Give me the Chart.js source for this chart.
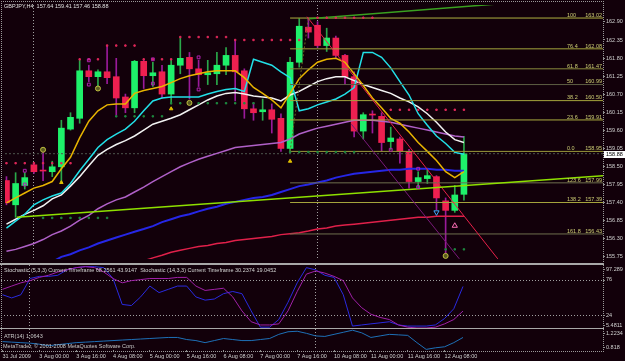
<!DOCTYPE html>
<html>
<head>
<meta charset="utf-8">
<title>GBPJPY,H4</title>
<script src="https://cdn.jsdelivr.net/npm/chart.js@4.4.1/dist/chart.umd.min.js"></script>
<style>
  html, body { margin: 0; padding: 0; background: #12000a; }
  #wrap { position: relative; width: 625px; height: 361px; overflow: hidden; background: #12000a; }
  canvas { position: absolute; left: 0; }
  .sep { position: absolute; left: 0; width: 604px; background: #a8a8a8; }
  #frame { position: absolute; left: 1px; top: 1px; width: 603px; height: 351px; box-sizing: border-box;
           border: 1px dotted #9a9a9a; pointer-events: none; }
</style>
</head>
<body>
<div id="wrap">
  <canvas id="main" width="625" height="264" style="top:0"></canvas>
  <canvas id="stoch" width="625" height="63" style="top:265px"></canvas>
  <canvas id="atr" width="625" height="32" style="top:329px"></canvas>
  <div class="sep" style="top:263px;height:2px"></div>
  <div class="sep" style="top:328px;height:1px"></div>
  <div id="frame"></div>
</div>
<script>
// ---- data ----
var symbol = 'GBPJPY,H4';

var opens  = [158.06,157.32,157.91,158.54,158.37,158.33,158.48,159.63,159.96,161.41,161.23,161.38,161.23,160.61,160.28,161.70,161.26,161.38,160.70,161.58,161.82,161.47,161.29,161.32,161.58,161.88,161.41,160.25,160.16,160.22,159.96,159.04,161.67,162.74,162.80,162.18,162.41,161.88,161.23,159.57,160.08,160.02,159.25,159.33,158.95,158.03,158.12,158.18,157.44,157.15,157.64];
var highs  = [158.18,158.30,158.30,158.59,158.92,158.65,159.90,160.13,161.73,161.58,161.44,162.18,161.79,160.70,161.73,161.76,161.67,161.58,161.76,162.41,161.97,161.73,161.73,161.97,162.12,162.35,161.47,160.43,160.55,160.40,160.10,161.82,163.00,163.02,162.91,162.71,162.47,161.91,161.38,160.13,160.19,160.13,159.69,159.39,159.01,158.33,158.42,158.21,157.53,157.91,159.41];
var lows   = [157.32,156.94,157.80,158.28,158.06,158.18,158.00,159.60,159.81,161.08,160.87,161.02,160.05,160.13,160.13,160.87,160.93,160.58,160.40,161.32,160.55,160.93,160.99,160.99,161.29,160.49,159.96,159.90,159.90,159.51,158.95,158.95,161.52,162.41,162.12,162.00,161.82,160.99,159.39,159.33,159.51,158.95,159.01,158.59,157.83,157.83,157.97,157.17,155.80,157.09,157.46];
var closes = [157.38,157.97,158.15,158.33,158.35,158.48,159.66,159.99,161.41,161.23,161.38,161.20,160.58,160.28,161.70,161.26,161.35,160.70,161.58,161.79,161.47,161.29,161.35,161.58,161.88,161.38,160.25,160.13,160.22,159.93,159.04,161.67,162.77,162.59,162.18,162.41,161.88,161.23,159.57,160.07,160.06,159.22,159.36,158.95,158.03,158.15,158.21,157.53,157.15,157.62,158.88];

var maYellow = [157.38,157.53,157.68,157.83,157.91,158.03,158.42,158.77,159.36,159.87,160.19,160.37,160.40,160.40,160.72,160.81,160.87,160.93,161.05,161.17,161.26,161.32,161.38,161.41,161.41,161.41,161.20,160.90,160.72,160.52,160.28,160.72,161.17,161.44,161.67,161.76,161.79,161.67,161.32,160.96,160.58,160.28,159.96,159.81,159.54,159.22,158.95,158.67,158.33,158.15,158.33];
var maCyan   = [156.61,156.82,157.03,157.32,157.47,157.59,157.68,157.97,158.36,158.71,159.07,159.31,159.48,159.63,159.87,160.19,160.49,160.58,160.61,160.61,160.61,160.61,160.70,160.78,160.84,160.87,160.78,161.76,161.67,161.58,161.38,161.20,160.19,160.25,160.37,160.46,160.55,160.70,160.90,161.97,161.97,161.82,161.50,161.08,160.67,160.10,159.75,159.42,159.19,158.92,158.86];
var maWhite  = [156.73,156.88,157.03,157.15,157.29,157.50,157.62,157.89,158.18,158.51,158.83,159.01,159.16,159.28,159.42,159.60,159.78,159.87,159.96,160.07,160.22,160.37,160.52,160.64,160.72,160.75,160.70,160.64,160.61,160.58,160.49,160.67,160.78,160.93,161.08,161.17,161.23,161.23,161.11,160.99,160.90,160.81,160.72,160.58,160.46,160.31,160.10,159.84,159.54,159.31,159.22];
var maViolet = [155.90,155.96,156.05,156.14,156.26,156.41,156.52,156.67,156.85,157.00,157.20,157.35,157.47,157.56,157.71,157.86,158.03,158.18,158.33,158.48,158.60,158.71,158.80,158.89,158.98,159.07,159.10,159.13,159.16,159.19,159.22,159.33,159.48,159.57,159.66,159.72,159.78,159.84,159.90,159.90,159.90,159.87,159.84,159.78,159.72,159.66,159.60,159.54,159.48,159.42,159.39];
var maBlue   = [null,null,null,null,null,155.58,155.73,155.81,155.93,156.02,156.14,156.23,156.32,156.41,156.50,156.58,156.67,156.79,156.88,156.97,157.03,157.12,157.20,157.26,157.35,157.41,157.47,157.53,157.56,157.62,157.71,157.80,157.89,157.94,158.00,158.06,158.15,158.21,158.27,158.30,158.33,158.36,158.39,158.39,158.42,158.42,158.42,158.39,158.39,158.36,158.36];
var maRed    = [null,null,null,null,null,null,null,null,null,null,null,null,null,null,null,155.61,155.70,155.78,155.87,155.93,155.99,156.05,156.08,156.14,156.17,156.23,156.26,156.29,156.32,156.35,156.41,156.44,156.47,156.52,156.58,156.61,156.67,156.70,156.73,156.76,156.79,156.82,156.85,156.88,156.91,156.94,156.94,156.97,156.97,156.97,156.97];

var resistDots = [158.59,158.59,158.59,158.59,158.59,158.59,158.59,158.59,161.76,161.76,161.76,162.18,162.18,162.18,162.18,161.76,161.76,161.76,161.76,162.44,162.44,162.44,162.44,162.44,162.44,162.35,162.35,162.35,162.35,162.35,162.35,162.35,162.35,null,163.03,163.03,163.03,163.03,163.03,163.03,163.03,null,160.22,160.22,160.22,160.22,160.22,160.22,160.22,160.22,160.22];
var supportDots = [null,null,null,null,156.92,156.92,156.92,156.92,156.92,156.92,156.92,156.92,160.02,160.02,160.02,160.02,160.02,160.02,160.42,160.42,160.42,160.42,160.42,160.42,160.42,160.42,160.42,160.42,null,null,null,158.93,158.93,158.93,158.93,158.93,158.93,158.93,158.93,null,null,null,null,null,null,null,null,null,155.96,155.96,155.96];

var circleMarks = [{x: 4, y: 159.00}, {x: 10, y: 160.87}, {x: 20, y: 160.43}, {x: 48, y: 155.76}];
var triangleMarks = [{x: 6, y: 158.00}, {x: 18, y: 160.25}, {x: 31, y: 158.65}];
var squareMarks = [{x: 2, y: 158.36}, {x: 2, y: 157.94}, {x: 9, y: 161.73}, {x: 9, y: 160.99}, {x: 16, y: 161.76}, {x: 16, y: 161.02},
                   {x: 21, y: 161.82}, {x: 21, y: 160.84}, {x: 42, y: 159.00}, {x: 45, y: 158.42}, {x: 45, y: 157.86}];
var arrowDown = [{x: 47, y: 157.09}];
var arrowUp = [{x: 49, y: 156.68}];

var fibNames  = ['100', '76.4', '61.8', '50', '38.2', '23.6', '0.0', '123.6', '138.2', '161.8'];
var fibPrices = [163.02, 162.08, 161.47, 160.99, 160.50, 159.91, 158.95, 157.99, 157.39, 156.43];
var fibStart = 31;
var fibBase = [{x: 31, y: 158.95}, {x: 33, y: 163.02}];
var redChannel = [{x: 32.85, y: 163.06}, {x: 53.7, y: 155.67}];
var purpleChannel = [{x: 37.7, y: 159.78}, {x: 49.5, y: 155.67}];
var greenTrend = [{x: 33.06, y: 163.00}, {x: 65.2, y: 163.70}];
var limeTrend = [{x: 1.14, y: 156.94}, {x: 65.2, y: 158.21}];
var bidPrice = 158.88;

var priceTicks = [162.90, 162.35, 161.80, 161.25, 160.70, 160.15, 159.60, 159.05, 158.50, 157.95, 157.40, 156.85, 156.30, 155.75];

var stochFast = [54.0,49.3,54.0,77.6,80.7,80.7,82.3,90.2,93.4,94.9,94.9,93.4,77.6,39.8,38.2,50.8,66.6,57.1,61.8,66.6,66.6,50.8,46.1,47.7,55.5,58.7,55.5,30.4,6.7,6.7,17.8,43.0,71.3,93.4,90.2,82.3,79.2,54.0,8.3,9.9,11.5,13.0,14.6,9.9,8.3,8.3,8.3,9.9,19.3,33.5,66.0];
var stochSlow = [61.8,66.6,71.3,74.5,79.2,82.3,87.1,90.2,93.4,94.9,93.4,87.1,77.6,71.3,74.5,76.0,77.6,77.6,77.6,79.2,79.2,66.6,60.2,61.8,63.4,50.8,30.4,14.6,9.9,9.9,11.5,30.4,58.7,84.0,88.6,85.5,80.7,74.5,49.3,35.1,25.6,20.9,17.8,9.9,6.7,5.5,5.5,6.7,11.5,17.8,30.2];
var stochTicks = [97.289, 76, 24, 5.4811];
var stochLevels = [76, 24];
var stochText = 'Stochastic (5,3,3) Current Timeframe 68.2561 43.9147  Stochastic (14,3,3) Current Timeframe 30.2374 19.0452';

var atrValues = [0.98,0.97,0.96,0.95,0.93,0.90,0.92,0.94,0.96,0.97,0.98,0.99,1.00,1.01,1.02,1.03,1.04,1.05,1.06,1.06,1.02,1.00,0.96,1.00,1.04,1.02,1.00,1.00,1.02,1.04,1.12,1.17,1.18,1.14,1.09,1.08,1.12,1.16,1.20,1.15,1.06,1.09,1.12,1.11,1.10,0.96,0.83,0.86,0.88,0.96,1.06];
var atrTicks = [1.2234, 0.818];
var atrText = 'ATR(14) 1.0643';
var copyText = 'MetaTrader, \u00a9 2001-2008 MetaQuotes Software Corp.';

var timeTickIdx = [0, 4, 8, 12, 16, 20, 24, 28, 32, 36, 40, 44, 48];
var timeLabels = ['31 Jul 2009', '3 Aug 00:00', '3 Aug 16:00', '4 Aug 08:00', '5 Aug 00:00', '5 Aug 16:00', '6 Aug 08:00',
                  '7 Aug 00:00', '7 Aug 16:00', '10 Aug 08:00', '11 Aug 00:00', '11 Aug 16:00', '12 Aug 08:00'];
var weekSeparators = [2.9, 33.9];

// ---- setup ----
var FONT = '5.5px "Liberation Sans", Arial, sans-serif';
Chart.defaults.font.family = '"Liberation Sans", Arial, sans-serif';
Chart.defaults.font.size = 5.5;
Chart.defaults.color = '#d0d0d0';
var xMin = -0.16, xMax = 65.2;

function series(arr) {
  return arr.map(function (v, i) { return { x: i, y: v }; });
}
function lineSet(data, color, width, order, dash) {
  return { type: 'line', data: data, borderColor: color, borderWidth: width, pointRadius: 0,
           borderDash: dash || [], tension: 0, fill: false, order: order };
}
function markSet(data, style, radius, fillC, lineC, order, rot) {
  return { type: 'line', data: data, showLine: false, pointStyle: style, pointRadius: radius,
           pointBackgroundColor: fillC, pointBorderColor: lineC, pointBorderWidth: 1,
           pointRotation: rot || 0, order: order };
}
function dotted(ctx, x1, y1, x2, y2, color) {
  ctx.save();
  ctx.strokeStyle = color;
  ctx.lineWidth = 1;
  ctx.setLineDash([1, 2]);
  ctx.beginPath();
  ctx.moveTo(x1, y1);
  ctx.lineTo(x2, y2);
  ctx.stroke();
  ctx.restore();
}
function weekLines(chart) {
  var a = chart.chartArea, xs = chart.scales.x;
  weekSeparators.forEach(function (v) {
    var px = Math.round(xs.getPixelForValue(v)) + 0.5;
    dotted(chart.ctx, px, a.top, px, a.bottom, '#a0a0a0');
  });
}
function sideLabels(chart, values) {
  var ctx = chart.ctx, a = chart.chartArea, ys = chart.scales.y;
  ctx.save();
  ctx.font = FONT;
  ctx.fillStyle = '#d0d0d0';
  ctx.strokeStyle = '#8a8a8a';
  ctx.textAlign = 'left';
  ctx.textBaseline = 'middle';
  values.forEach(function (v) {
    var py = Math.min(Math.max(ys.getPixelForValue(v), a.top + 4), a.bottom - 3);
    ctx.beginPath();
    ctx.moveTo(a.right, Math.round(py) + 0.5);
    ctx.lineTo(a.right + 2, Math.round(py) + 0.5);
    ctx.stroke();
    ctx.fillText(String(v), a.right + 3, py);
  });
  ctx.restore();
}
function panelText(chart, text, x, y, color) {
  var ctx = chart.ctx;
  ctx.save();
  ctx.font = FONT;
  ctx.fillStyle = color;
  ctx.textAlign = 'left';
  ctx.textBaseline = 'middle';
  ctx.fillText(text, x, y);
  ctx.restore();
}
var baseOptions = {
  responsive: false,
  animation: false,
  events: [],
  devicePixelRatio: 1,
  plugins: { legend: { display: false }, tooltip: { enabled: false } }
};
function sideAxisFit(ax) { ax.width = 22; ax.paddingTop = 0; ax.paddingBottom = 0; }

// ---- main price panel ----
var isUp = closes.map(function (c, i) { return c >= opens[i]; });
var wicks = highs.map(function (h, i) { return { x: i, y: [lows[i], h] }; });
var bodies = opens.map(function (o, i) { return { x: i, y: [o, closes[i]] }; });

var fibColors = ['#b0b040', '#a4a43c', '#8a8a3c', '#5e5e44', '#a4a43c', '#acac40', '#9a9a3a', '#6e6e4e', '#a4a43c', '#6e6e4e'];
var fibSets = fibPrices.map(function (p, k) {
  return lineSet([{ x: fibStart, y: p }, { x: xMax, y: p }], fibColors[k], 1, 30);
});

var mainDecor = {
  id: 'mainDecor',
  beforeDatasetsDraw: function (chart) { weekLines(chart); },
  afterDatasetsDraw: function (chart) {
    var ctx = chart.ctx, a = chart.chartArea, ys = chart.scales.y;
    ctx.save();
    ctx.font = FONT;
    ctx.fillStyle = '#cccc74';
    ctx.textBaseline = 'bottom';
    fibPrices.forEach(function (p, k) {
      var py = ys.getPixelForValue(p);
      ctx.textAlign = 'left';
      ctx.fillText(fibNames[k], a.right - 36, py);
      ctx.textAlign = 'right';
      ctx.fillText(p.toFixed(2), a.right - 1, py);
    });
    ctx.restore();
  },
  afterDraw: function (chart) {
    var ctx = chart.ctx, a = chart.chartArea, ys = chart.scales.y;
    var last = opens.length - 1;
    var title = symbol + '  ' + [opens[last], highs[last], lows[last], closes[last]].map(function (v) { return v.toFixed(2); }).join(' ');
    panelText(chart, title, 4, 6, '#e0e0e0');
    var py = ys.getPixelForValue(bidPrice);
    ctx.save();
    ctx.fillStyle = '#ffffff';
    ctx.fillRect(a.right + 1, Math.round(py) - 3, 21, 7);
    ctx.restore();
    panelText(chart, bidPrice.toFixed(2), a.right + 3, py + 0.5, '#000000');
  }
};

new Chart(document.getElementById('main'), {
  type: 'bar',
  data: {
    datasets: [
      { type: 'bar', data: wicks, grouped: false, barThickness: 1, borderWidth: 0, order: 50,
        backgroundColor: isUp.map(function (u) { return u ? '#2aa84a' : '#9a1a9a'; }) },
      { type: 'bar', data: bodies, grouped: false, barThickness: 6, borderWidth: 0, minBarLength: 1, order: 49,
        backgroundColor: isUp.map(function (u) { return u ? '#1ef06a' : '#ee2050'; }) },
      lineSet([{ x: xMin, y: bidPrice }, { x: xMax, y: bidPrice }], '#4e564e', 1, 45, [2, 2]),
      lineSet(series(maRed), '#e0204a', 1.5, 40),
      lineSet(series(maBlue), '#2626e6', 2, 39),
      lineSet(series(maViolet), '#b060c8', 1.5, 38),
      lineSet(series(maWhite), '#f2f2f2', 1.5, 37),
      lineSet(series(maCyan), '#22e0e8', 1.5, 36),
      lineSet(series(maYellow), '#e8b400', 1.5, 35)
    ].concat(fibSets).concat([
      lineSet(fibBase, '#6a6a24', 1, 25, [2, 2]),
      lineSet(limeTrend, '#8ee000', 1.5, 20),
      lineSet(greenTrend, '#3aa020', 1.5, 20),
      lineSet(redChannel, '#e8204a', 1, 20),
      lineSet(purpleChannel, '#7a1a7a', 1, 20),
      markSet(series(resistDots), 'rect', 1, '#e0285a', '#e0285a', 10),
      markSet(series(supportDots), 'rect', 1, '#1e8a40', '#1e8a40', 10),
      markSet(circleMarks, 'circle', 2.5, '#5a5a20', '#c0c040', 9),
      markSet(triangleMarks, 'triangle', 2, '#e0c000', '#e0c000', 9),
      markSet(squareMarks, 'rect', 2, 'rgba(0,0,0,0)', '#b020b0', 9),
      markSet(arrowDown, 'triangle', 3, 'rgba(0,0,0,0)', '#40a8ff', 8, 180),
      markSet(arrowUp, 'triangle', 3, 'rgba(0,0,0,0)', '#ff70b8', 8)
    ])
  },
  options: Object.assign({}, baseOptions, {
    layout: { padding: { left: 1, top: 1, right: 0, bottom: 1 } },
    scales: {
      x: { type: 'linear', min: xMin, max: xMax, offset: false, display: false },
      y: {
        position: 'right', min: 155.666, max: 163.418,
        afterBuildTicks: function (ax) { ax.ticks = priceTicks.map(function (v) { return { value: v }; }); },
        afterFit: sideAxisFit,
        ticks: { autoSkip: false, padding: 1, color: '#d0d0d0', callback: function (v) { return Number(v).toFixed(2); } },
        grid: { display: true, drawOnChartArea: false, drawTicks: true, tickLength: 2, color: '#8a8a8a' },
        border: { display: false }
      }
    }
  }),
  plugins: [mainDecor]
});

// ---- stochastic panel ----
var stochDecor = {
  id: 'stochDecor',
  beforeDatasetsDraw: function (chart) {
    var a = chart.chartArea, ys = chart.scales.y;
    weekLines(chart);
    stochLevels.forEach(function (v) {
      var py = Math.round(ys.getPixelForValue(v)) + 0.5;
      dotted(chart.ctx, a.left, py, a.right, py, '#a0a0a0');
    });
  },
  afterDraw: function (chart) {
    sideLabels(chart, stochTicks);
    panelText(chart, stochText, 4, 5.5, '#d4d4d4');
  }
};

new Chart(document.getElementById('stoch'), {
  type: 'line',
  data: {
    datasets: [
      lineSet(series(stochFast), '#2a2ae0', 1, 2),
      lineSet(series(stochSlow), '#a020a8', 1, 1)
    ]
  },
  options: Object.assign({}, baseOptions, {
    layout: { padding: { left: 1, top: 0, right: 0, bottom: 0 } },
    scales: {
      x: { type: 'linear', min: xMin, max: xMax, display: false },
      y: { position: 'right', min: 5.4811, max: 97.289, afterFit: sideAxisFit,
           ticks: { display: false }, grid: { display: false }, border: { display: false } }
    }
  }),
  plugins: [stochDecor]
});

// ---- ATR panel + time axis ----
var atrDecor = {
  id: 'atrDecor',
  beforeDatasetsDraw: function (chart) { weekLines(chart); },
  afterDraw: function (chart) {
    sideLabels(chart, atrTicks);
    panelText(chart, atrText, 4, 7, '#c8c8c8');
    panelText(chart, copyText, 3, 17, '#c8c8c8');
  }
};

new Chart(document.getElementById('atr'), {
  type: 'line',
  data: {
    datasets: [lineSet(series(atrValues), '#1e70b8', 1, 1)]
  },
  options: Object.assign({}, baseOptions, {
    layout: { padding: { left: 1, top: 0, right: 0, bottom: 0 } },
    scales: {
      x: {
        type: 'linear', min: xMin, max: xMax, offset: false,
        afterBuildTicks: function (ax) { ax.ticks = timeTickIdx.map(function (v) { return { value: v }; }); },
        afterFit: function (ax) { ax.height = 11; ax.paddingLeft = 0; ax.paddingRight = 0; },
        ticks: { autoSkip: false, maxRotation: 0, minRotation: 0, align: 'start', padding: 1, color: '#d0d0d0',
                 callback: function (v) { return timeLabels[timeTickIdx.indexOf(v)]; } },
        grid: { display: true, drawOnChartArea: false, drawTicks: true, tickLength: 2, color: '#8a8a8a' },
        border: { display: false }
      },
      y: { position: 'right', min: 0.818, max: 1.2234, afterFit: sideAxisFit,
           ticks: { display: false }, grid: { display: false }, border: { display: false } }
    }
  }),
  plugins: [atrDecor]
});
</script>
</body>
</html>
